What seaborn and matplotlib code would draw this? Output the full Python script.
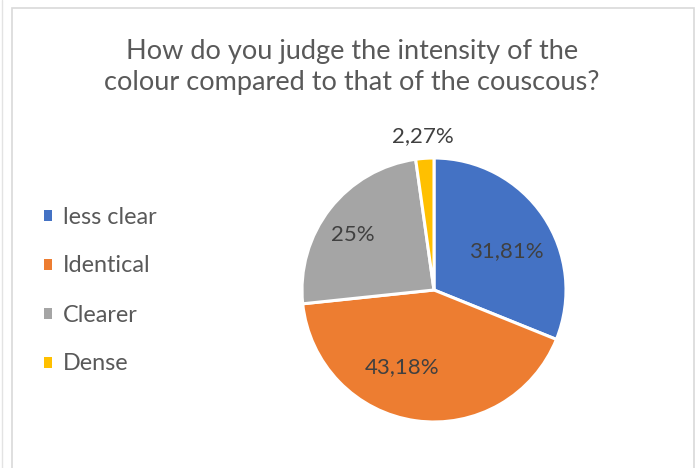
import numpy as np
import matplotlib
matplotlib.use("Agg")
import matplotlib.pyplot as plt
from matplotlib.patches import Rectangle
from matplotlib.lines import Line2D
import seaborn as sns

# Survey answers and their shares (percent, as labelled)
categories = ["less clear", "Identical", "Clearer", "Dense"]
shares = [31.81, 43.18, 25.0, 2.27]
share_labels = ["31,81%", "43,18%", "25%", "2,27%"]
title = "How do you judge the intensity of the\ncolour compared to that of the couscous?"

sns.set_theme(style="white")
plt.rcParams["font.family"] = ["Lato", "DejaVu Sans"]

colors = sns.color_palette(["#4472C4", "#ED7D31", "#A5A5A5", "#FFC000"])

W, H = 699, 468
fig = plt.figure(figsize=(W / 100, H / 100), dpi=100)

# chart-area frame
fig.add_artist(Rectangle((12 / W, -0.05), (694 - 12) / W, 1.05 - 8 / H,
                         transform=fig.transFigure, fill=False,
                         edgecolor="#D9D9D9", linewidth=1.2))
fig.add_artist(Line2D([1.5 / W, 1.5 / W], [0, 1], transform=fig.transFigure,
                      color="#E3E3E3", linewidth=1.0))

# pie axes: centre (434, 290) px, radius 132 px
cx, cy, r = 434, 290, 132
ax = fig.add_axes([(cx - r) / W, (H - cy - r) / H, 2 * r / W, 2 * r / H])
wedges, _ = ax.pie(shares, colors=colors, startangle=90, counterclock=False,
                   radius=1.0,
                   wedgeprops=dict(edgecolor="white", linewidth=2.2))
ax.set_xlim(-1, 1)
ax.set_ylim(-1, 1)
ax.axis("off")

# value labels placed relative to each wedge's bisector
label_dist = [0.62, 0.63, 0.74, 1.17]
label_offset = [-6.0, -14.5, 4.0, 0.0]
for w, txt, d, off in zip(wedges, share_labels, label_dist, label_offset):
    mid = np.deg2rad((w.theta1 + w.theta2) / 2 + off)
    ax.text(d * np.cos(mid), d * np.sin(mid), txt, ha="center", va="center",
            fontsize=16, color="#404040", clip_on=False)

fig.text(352 / W, 1 - 67 / H, title, ha="center", va="center",
         fontsize=19.5, color="#595959", linespacing=1.32)

leg = fig.legend(wedges, categories, loc="center left",
                 bbox_to_anchor=(44 / W, 1 - 290.5 / H), frameon=False,
                 fontsize=16.8, labelcolor="#595959", borderpad=0,
                 borderaxespad=0,
                 handlelength=0.36, handleheight=0.36, handletextpad=0.45,
                 labelspacing=1.2)
for h in leg.legend_handles:
    h.set_edgecolor("none")

fig.savefig("out.png", dpi=100)
